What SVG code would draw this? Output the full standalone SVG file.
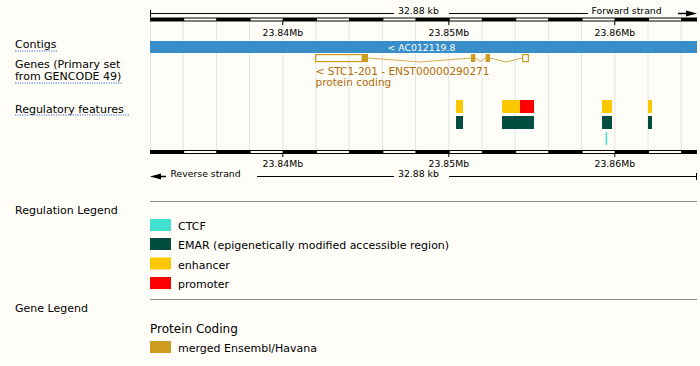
<svg xmlns="http://www.w3.org/2000/svg" width="700" height="366" viewBox="0 0 700 366">
<style>
text{font-family:"DejaVu Sans","Liberation Sans",sans-serif;fill:#000}
.s{font-size:9.3px}
.lab{font-size:11px}
.grid{stroke:#e3e3e3;stroke-width:1}
.ul{stroke:#3a6fc4;stroke-width:1;stroke-dasharray:1.2,1.2}
.wseg{fill:#fff}
.gene{fill:#cd9b1d}
.gbox{fill:none;stroke:#cd9b1d;stroke-width:1.2}
.intron{fill:none;stroke:#d8ad4e;stroke-width:1}
.glab{font-size:10.5px;fill:#b06c0a}
.enh{fill:#fac800}
.pro{fill:#ff0000}
.emar{fill:#024d3f}
.ctcf{fill:#40e0d0}
.sep{stroke:#8c8c8c;stroke-width:1}
</style>
<defs>
<g id="bar">
<rect x="150" y="0" width="547" height="4" fill="#000"/>
<rect class="wseg" x="184.2" y="1" width="32" height="2"/>
<rect class="wseg" x="250.6" y="1" width="32" height="2"/>
<rect class="wseg" x="317" y="1" width="32" height="2"/>
<rect class="wseg" x="383.4" y="1" width="32" height="2"/>
<rect class="wseg" x="449.8" y="1" width="32" height="2"/>
<rect class="wseg" x="516.2" y="1" width="32" height="2"/>
<rect class="wseg" x="582.6" y="1" width="32" height="2"/>
<rect class="wseg" x="649" y="1" width="32" height="2"/>
</g>
</defs>
<rect x="0" y="0" width="700" height="366" fill="#fefdf8"/>

<g id="gridlines">
<line class="grid" x1="150.5" y1="22" x2="150.5" y2="150" stroke="#cfcfcf"/>
<line class="grid" x1="183.2" y1="22" x2="183.2" y2="150"/>
<line class="grid" x1="216.4" y1="22" x2="216.4" y2="150"/>
<line class="grid" x1="249.6" y1="22" x2="249.6" y2="150"/>
<line class="grid" x1="282.8" y1="22" x2="282.8" y2="150"/>
<line class="grid" x1="316" y1="22" x2="316" y2="150"/>
<line class="grid" x1="349.2" y1="22" x2="349.2" y2="150"/>
<line class="grid" x1="382.4" y1="22" x2="382.4" y2="150"/>
<line class="grid" x1="415.6" y1="22" x2="415.6" y2="150"/>
<line class="grid" x1="448.8" y1="22" x2="448.8" y2="150"/>
<line class="grid" x1="482" y1="22" x2="482" y2="150"/>
<line class="grid" x1="515.2" y1="22" x2="515.2" y2="150"/>
<line class="grid" x1="548.4" y1="22" x2="548.4" y2="150"/>
<line class="grid" x1="581.6" y1="22" x2="581.6" y2="150"/>
<line class="grid" x1="614.8" y1="22" x2="614.8" y2="150"/>
<line class="grid" x1="648" y1="22" x2="648" y2="150"/>
<line class="grid" x1="681.2" y1="22" x2="681.2" y2="150"/>
</g>

<g id="top-ruler">
<line x1="150.5" y1="10" x2="150.5" y2="17" stroke="#000"/>
<line x1="150" y1="13.5" x2="394" y2="13.5" stroke="#000"/>
<text class="s" x="398" y="14">32.88 kb</text>
<line x1="449" y1="13.5" x2="588" y2="13.5" stroke="#000"/>
<text class="s" x="591.5" y="14">Forward strand</text>
<line x1="678" y1="13.5" x2="687" y2="13.5" stroke="#000" stroke-width="1.5"/>
<polygon points="697,13.5 686,10.5 686,16.5" fill="#000"/>
<use href="#bar" y="17.5"/>
<line x1="282.8" y1="21" x2="282.8" y2="25" stroke="#000"/>
<line x1="448.8" y1="21" x2="448.8" y2="25" stroke="#000"/>
<line x1="614.8" y1="21" x2="614.8" y2="25" stroke="#000"/>
<text class="s" x="282.8" y="36" text-anchor="middle">23.84Mb</text>
<text class="s" x="448.8" y="36" text-anchor="middle">23.85Mb</text>
<text class="s" x="614.8" y="36" text-anchor="middle">23.86Mb</text>
</g>

<g id="track-labels">
<text class="lab" x="15" y="48">Contigs</text>
<line class="ul" x1="15" y1="51" x2="57" y2="51"/>
<text class="lab" x="15" y="68">Genes (Primary set</text>
<text class="lab" x="15" y="80">from GENCODE 49)</text>
<line class="ul" x1="15" y1="83" x2="123" y2="83"/>
<text class="lab" x="15" y="112.5">Regulatory features</text>
<line class="ul" x1="15" y1="115" x2="129" y2="115"/>
</g>

<g id="contig">
<rect x="150" y="41" width="547" height="12" fill="#378ec9"/>
<text class="s" x="421.5" y="50.5" text-anchor="middle" fill="#fff" style="fill:#fff">&lt; AC012119.8</text>
</g>

<g id="gene-STC1-201">
<rect class="gbox" x="315.6" y="54.6" width="46.6" height="7"/>
<rect class="gene" x="362" y="54" width="6" height="8"/>
<rect class="gene" x="471" y="54" width="4.3" height="8"/>
<rect class="gene" x="485.6" y="54" width="4.4" height="8"/>
<rect class="gbox" x="522.6" y="54.6" width="5.8" height="7"/>
<polyline class="intron" points="368,58 419.5,62 471,58"/>
<polyline class="intron" points="475.3,58 480.5,61.5 485.6,58"/>
<polyline class="intron" points="490,58 506,62 522,58"/>
<text class="glab" x="315.5" y="75">&lt; STC1-201 - ENST00000290271</text>
<text class="glab" x="315.5" y="86">protein coding</text>
</g>

<g id="regulatory">
<rect class="enh" x="456" y="100" width="7" height="13"/>
<rect class="emar" x="456" y="116" width="7" height="13"/>
<rect class="enh" x="502" y="100" width="18" height="13"/>
<rect class="pro" x="520" y="100" width="14" height="13"/>
<rect class="emar" x="502" y="116" width="32" height="13"/>
<rect class="enh" x="602" y="100" width="10" height="13"/>
<rect class="emar" x="602" y="116" width="10" height="13"/>
<rect class="enh" x="648" y="100" width="4" height="13"/>
<rect class="emar" x="648" y="116" width="4" height="13"/>
<rect class="ctcf" x="605.6" y="132" width="1.5" height="13"/>
</g>

<g id="bottom-ruler">
<use href="#bar" y="150"/>
<line x1="282.8" y1="153" x2="282.8" y2="157" stroke="#000"/>
<line x1="448.8" y1="153" x2="448.8" y2="157" stroke="#000"/>
<line x1="614.8" y1="153" x2="614.8" y2="157" stroke="#000"/>
<text class="s" x="282.8" y="167" text-anchor="middle">23.84Mb</text>
<text class="s" x="448.8" y="167" text-anchor="middle">23.85Mb</text>
<text class="s" x="614.8" y="167" text-anchor="middle">23.86Mb</text>
<polygon points="150,176.5 161,173.5 161,179.5" fill="#000"/>
<line x1="160" y1="176.5" x2="166" y2="176.5" stroke="#000" stroke-width="1.5"/>
<text class="s" x="170.5" y="177">Reverse strand</text>
<line x1="257" y1="176.5" x2="394" y2="176.5" stroke="#000"/>
<text class="s" x="398" y="177">32.88 kb</text>
<line x1="449" y1="176.5" x2="697" y2="176.5" stroke="#000"/>
<line x1="696.5" y1="173" x2="696.5" y2="180" stroke="#000"/>
</g>

<g id="regulation-legend">
<line class="sep" x1="150" y1="201.5" x2="697" y2="201.5"/>
<text class="lab" x="15" y="214">Regulation Legend</text>
<rect class="ctcf" x="150" y="219" width="21" height="12"/>
<text class="lab" x="178" y="230">CTCF</text>
<rect class="emar" x="150" y="238" width="21" height="12"/>
<text class="lab" x="178" y="249">EMAR (epigenetically modified accessible region)</text>
<rect class="enh" x="150" y="257.5" width="21" height="12"/>
<text class="lab" x="178" y="268.5">enhancer</text>
<rect class="pro" x="150" y="277" width="21" height="12"/>
<text class="lab" x="178" y="288">promoter</text>
</g>

<g id="gene-legend">
<line class="sep" x1="150" y1="299.5" x2="697" y2="299.5"/>
<text class="lab" x="15" y="312">Gene Legend</text>
<text x="150" y="333" style="font-size:12px">Protein Coding</text>
<rect class="gene" x="150" y="341" width="21" height="12"/>
<text class="lab" x="178" y="352">merged Ensembl/Havana</text>
</g>
</svg>
